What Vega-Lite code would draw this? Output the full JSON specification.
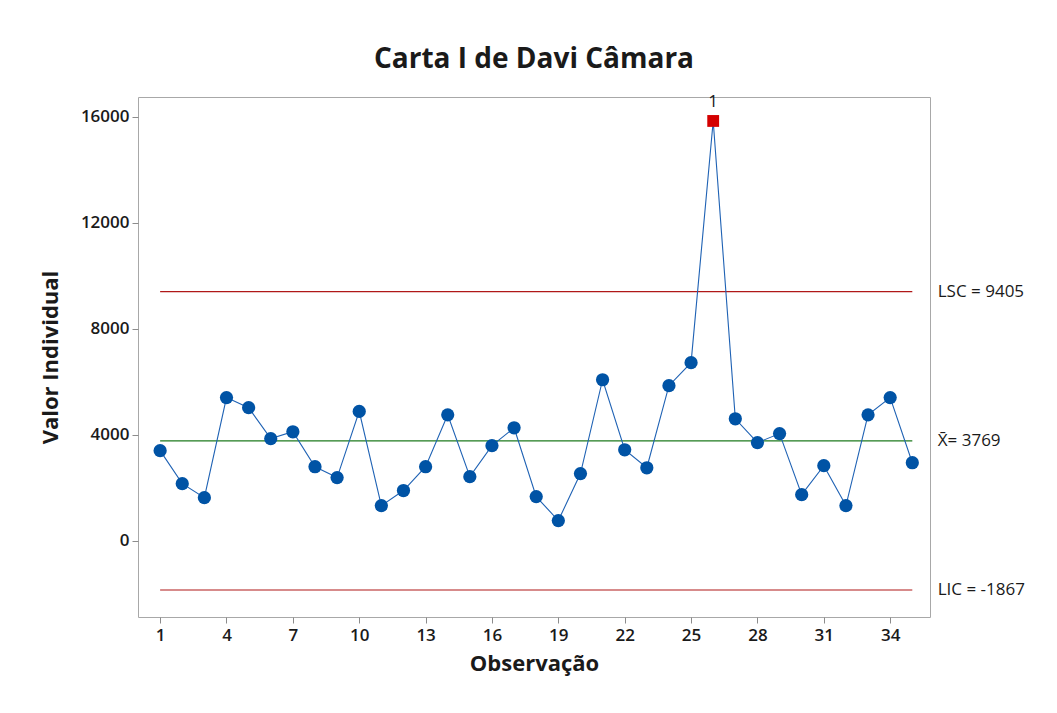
{
  "$schema": "https://vega.github.io/schema/vega-lite/v6.json",
  "width": 792,
  "height": 520,
  "autosize": "none",
  "padding": {"left": 138, "top": 97, "right": 127, "bottom": 96},
  "background": "white",
  "config": {
    "font": "Open Sans",
    "view": {"stroke": "#a8a8a8", "strokeWidth": 1}
  },
  "title": {
    "text": "Carta I de Davi Câmara",
    "fontSize": 28,
    "fontWeight": "bold",
    "font": "Open Sans",
    "color": "#1a1a1a",
    "anchor": "middle",
    "offset": 19
  },
  "datasets": {
    "obs": [
      {"obs": 1, "value": 3396, "flag": 0},
      {"obs": 2, "value": 2150, "flag": 0},
      {"obs": 3, "value": 1620, "flag": 0},
      {"obs": 4, "value": 5400, "flag": 0},
      {"obs": 5, "value": 5020, "flag": 0},
      {"obs": 6, "value": 3850, "flag": 0},
      {"obs": 7, "value": 4110, "flag": 0},
      {"obs": 8, "value": 2790, "flag": 0},
      {"obs": 9, "value": 2380, "flag": 0},
      {"obs": 10, "value": 4880, "flag": 0},
      {"obs": 11, "value": 1320, "flag": 0},
      {"obs": 12, "value": 1890, "flag": 0},
      {"obs": 13, "value": 2790, "flag": 0},
      {"obs": 14, "value": 4750, "flag": 0},
      {"obs": 15, "value": 2415, "flag": 0},
      {"obs": 16, "value": 3585, "flag": 0},
      {"obs": 17, "value": 4260, "flag": 0},
      {"obs": 18, "value": 1660, "flag": 0},
      {"obs": 19, "value": 755, "flag": 0},
      {"obs": 20, "value": 2530, "flag": 0},
      {"obs": 21, "value": 6075, "flag": 0},
      {"obs": 22, "value": 3430, "flag": 0},
      {"obs": 23, "value": 2750, "flag": 0},
      {"obs": 24, "value": 5850, "flag": 0},
      {"obs": 25, "value": 6720, "flag": 0},
      {"obs": 26, "value": 15850, "flag": 1},
      {"obs": 27, "value": 4600, "flag": 0},
      {"obs": 28, "value": 3700, "flag": 0},
      {"obs": 29, "value": 4040, "flag": 0},
      {"obs": 30, "value": 1735, "flag": 0},
      {"obs": 31, "value": 2830, "flag": 0},
      {"obs": 32, "value": 1320, "flag": 0},
      {"obs": 33, "value": 4750, "flag": 0},
      {"obs": 34, "value": 5400, "flag": 0},
      {"obs": 35, "value": 2940, "flag": 0}
    ],
    "limits": [
      {"name": "LSC", "value": 9405, "label": "LSC = 9405"},
      {"name": "CL", "value": 3769, "label": "X̄= 3769"},
      {"name": "LIC", "value": -1867, "label": "LIC = -1867"}
    ]
  },
  "encoding": {
    "x": {
      "type": "quantitative",
      "scale": {"domain": [0, 35.8], "nice": false, "zero": false},
      "axis": {
        "title": "Observação",
        "values": [1, 4, 7, 10, 13, 16, 19, 22, 25, 28, 31, 34],
        "format": "d",
        "grid": false,
        "domain": false,
        "tickColor": "#8c8c8c",
        "tickSize": 6,
        "labelFontSize": 17,
        "labelFontWeight": 600,
        "labelColor": "#1a1a1a",
        "labelPadding": 4,
        "titleFontSize": 22,
        "titleFontWeight": "bold",
        "titleColor": "#1a1a1a",
        "titlePadding": 10
      }
    },
    "y": {
      "type": "quantitative",
      "scale": {"domain": [-2887, 16755], "nice": false, "zero": false},
      "axis": {
        "title": "Valor Individual",
        "values": [0, 4000, 8000, 12000, 16000],
        "format": "d",
        "grid": false,
        "domain": false,
        "tickColor": "#8c8c8c",
        "tickSize": 6,
        "labelFontSize": 17,
        "labelFontWeight": 600,
        "labelColor": "#1a1a1a",
        "labelPadding": 3,
        "titleFontSize": 22,
        "titleFontWeight": "bold",
        "titleColor": "#1a1a1a",
        "titlePadding": 18
      }
    }
  },
  "layer": [
    {
      "data": {"name": "limits"},
      "transform": [{"filter": "datum.name != 'CL'"}],
      "mark": {"type": "rule", "strokeWidth": 1.2, "color": "#b01818"},
      "encoding": {
        "y": {"field": "value", "type": "quantitative"},
        "x": {"datum": 1},
        "x2": {"datum": 35}
      }
    },
    {
      "data": {"name": "limits"},
      "transform": [{"filter": "datum.name == 'CL'"}],
      "mark": {"type": "rule", "strokeWidth": 1.2, "color": "#1e7a1e"},
      "encoding": {
        "y": {"field": "value", "type": "quantitative"},
        "x": {"datum": 1},
        "x2": {"datum": 35}
      }
    },
    {
      "data": {"name": "limits"},
      "mark": {"type": "text", "align": "left", "baseline": "middle", "fontSize": 17, "color": "#1a1a1a"},
      "encoding": {
        "y": {"field": "value", "type": "quantitative"},
        "x": {"datum": 36.15},
        "text": {"field": "label"}
      }
    },
    {
      "data": {"name": "obs"},
      "mark": {"type": "line", "color": "#1f62b4", "strokeWidth": 1.1},
      "encoding": {
        "x": {"field": "obs", "type": "quantitative"},
        "y": {"field": "value", "type": "quantitative"}
      }
    },
    {
      "data": {"name": "obs"},
      "transform": [{"filter": "datum.flag == 0"}],
      "mark": {"type": "circle", "color": "#0053a5", "opacity": 1, "size": 175},
      "encoding": {
        "x": {"field": "obs", "type": "quantitative"},
        "y": {"field": "value", "type": "quantitative"}
      }
    },
    {
      "data": {"name": "obs"},
      "transform": [{"filter": "datum.flag == 1"}],
      "mark": {"type": "square", "color": "#d40000", "opacity": 1, "filled": true, "size": 140},
      "encoding": {
        "x": {"field": "obs", "type": "quantitative"},
        "y": {"field": "value", "type": "quantitative"}
      }
    },
    {
      "data": {"name": "obs"},
      "transform": [{"filter": "datum.flag == 1"}],
      "mark": {"type": "text", "dy": -19, "fontSize": 17, "color": "#1a1a1a", "baseline": "middle"},
      "encoding": {
        "x": {"field": "obs", "type": "quantitative"},
        "y": {"field": "value", "type": "quantitative"},
        "text": {"value": "1"}
      }
    }
  ]
}
